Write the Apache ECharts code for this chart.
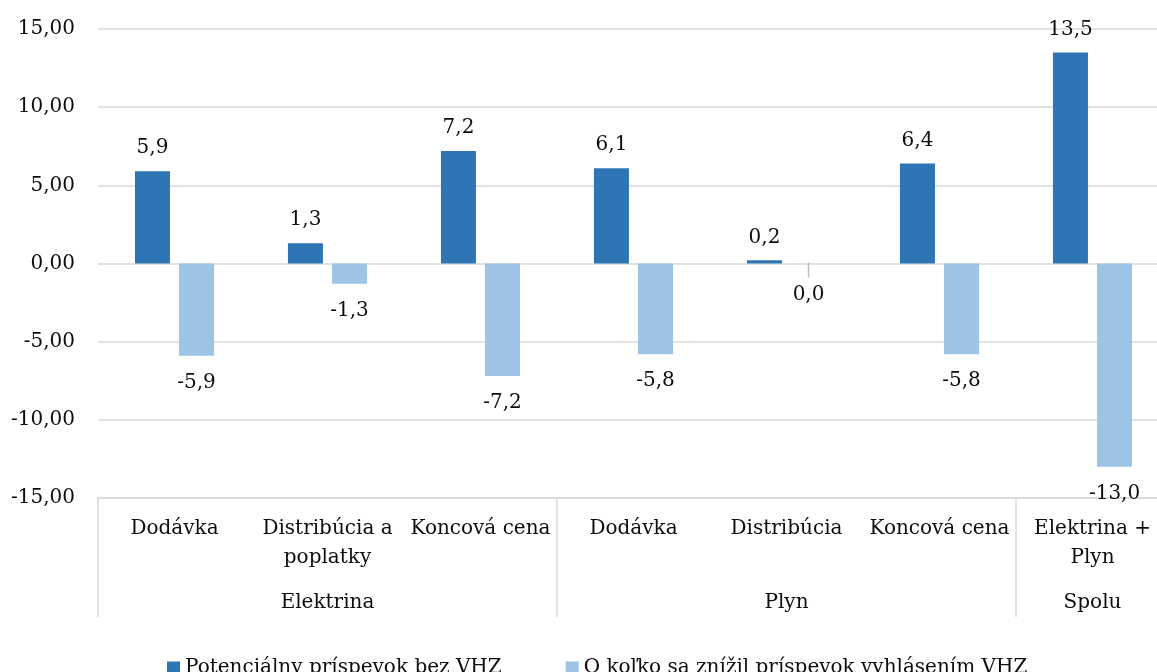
<!DOCTYPE html>
<html><head><meta charset="utf-8">
<script src="https://cdn.jsdelivr.net/npm/echarts@6/dist/echarts.min.js"></script>
<style>html,body{margin:0;padding:0;background:#fff;overflow:hidden}#c{width:1172px;height:672px}</style>
</head><body><div id="c"></div>
<script>
const categories = ['Dodávka', 'Distribúcia a\npoplatky', 'Koncová cena', 'Dodávka', 'Distribúcia', 'Koncová cena', 'Elektrina +\nPlyn'];
const groups = ['', 'Elektrina', '', '', 'Plyn', '', 'Spolu'];
const groupStarts = [0, 3, 6];
const seriesNames = ['Potenciálny príspevok bez VHZ', 'O koľko sa znížil príspevok vyhlásením VHZ'];
const potencialny = [5.9, 1.3, 7.2, 6.1, 0.2, 6.4, 13.5];
const znizil = [-5.9, -1.3, -7.2, -5.8, 0.0, -5.8, -13.0];
const yTicks = [-15, 15, 5];

const FONT = 'DejaVu Serif';
const TXT = '#0d0d0d';
const fmt1 = v => v.toFixed(1).replace('.', ',');
const chart = echarts.init(document.getElementById('c'));
chart.setOption({
  animation: false,
  textStyle: { fontFamily: FONT },
  grid: { left: 98, width: 1071, top: 29, height: 469 },
  legend: {
    top: 653, left: 162, itemWidth: 13, itemHeight: 13, itemGap: 64,
    icon: 'rect',
    textStyle: { fontFamily: FONT, fontSize: 20, color: TXT },
    data: seriesNames
  },
  xAxis: [{
    type: 'category', data: categories, position: 'bottom',
    axisLine: { onZero: false, lineStyle: { color: '#D9D9D9', width: 1.5 } },
    axisTick: { show: true, length: 119, interval: (i) => groupStarts.includes(i), lineStyle: { color: '#D9D9D9', width: 1.5 } },
    axisLabel: { interval: 0, fontFamily: FONT, fontSize: 20, color: TXT, lineHeight: 29, margin: 16 }
  }, {
    type: 'category', data: groups, position: 'bottom',
    axisLine: { show: false }, axisTick: { show: false },
    axisLabel: { interval: 0, fontFamily: FONT, fontSize: 20, color: TXT, lineHeight: 29, margin: 90 }
  }],
  yAxis: {
    type: 'value', min: yTicks[0], max: yTicks[1], interval: yTicks[2],
    axisLine: { show: false }, axisTick: { show: false },
    splitLine: { lineStyle: { color: '#D9D9D9', width: 1.5 } },
    axisLabel: { fontFamily: FONT, fontSize: 20, color: TXT, margin: 23,
      formatter: v => v.toFixed(2).replace('.', ',') }
  },
  series: [{
    name: seriesNames[0], type: 'bar', data: potencialny, barWidth: 35, barGap: '26%',
    itemStyle: { color: '#2E75B6' },
    label: { show: true, position: 'top', distance: 13, fontFamily: FONT, fontSize: 20, color: TXT,
      formatter: p => fmt1(p.value) }
  }, {
    name: seriesNames[1], type: 'bar', barWidth: 35,
    data: znizil.map(v => v === 0
      ? { value: v, label: { distance: -1, formatter: p => '{t|}\n{v|' + fmt1(p.value) + '}' } }
      : v),
    itemStyle: { color: '#9DC3E6' },
    label: { show: true, position: 'bottom', distance: 17, fontFamily: FONT, fontSize: 20, color: TXT,
      formatter: p => fmt1(p.value),
      rich: {
        t: { width: 1.5, height: 15, backgroundColor: '#BFBFBF' },
        v: { fontFamily: FONT, fontSize: 20, color: TXT, lineHeight: 22, padding: [13, 0, 0, 0] }
      } }
  }]
});
</script></body></html>
